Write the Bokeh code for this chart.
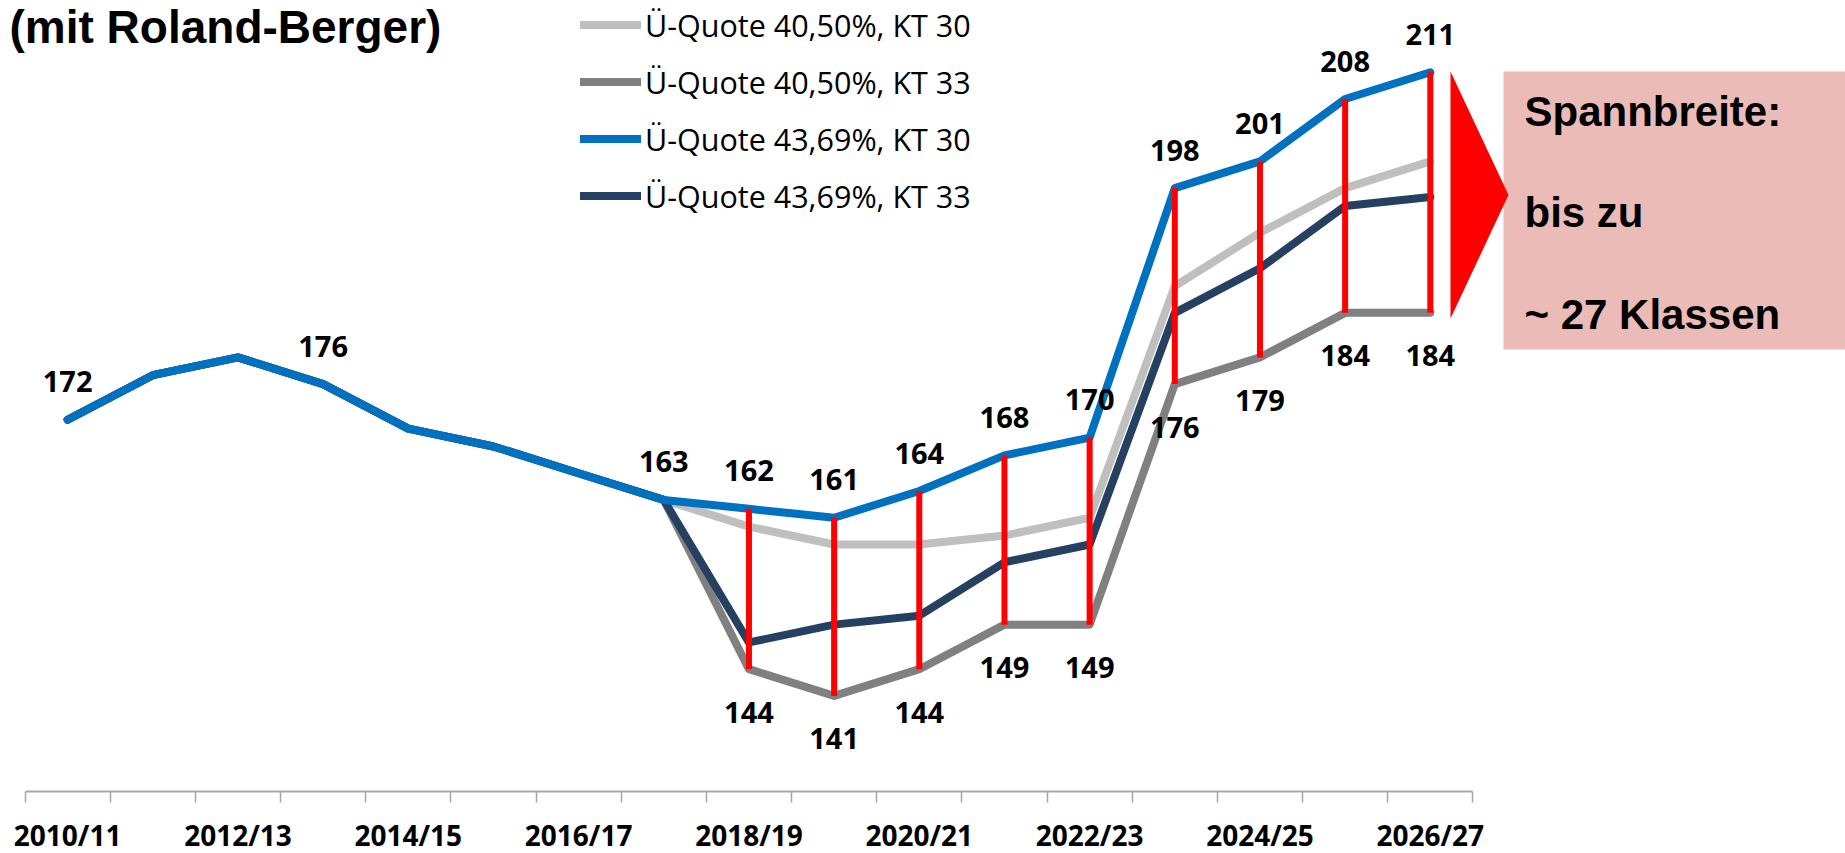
from bokeh.plotting import figure
from bokeh.models import (FixedTicker, Legend, LegendItem, Label, BoxAnnotation,
                          PolyAnnotation, Range1d, ColumnDataSource)
from bokeh.core.properties import value
from bokeh.embed import file_html
from bokeh.resources import INLINE

# ---------------- data ----------------
categories = ["2010/11", "2011/12", "2012/13", "2013/14", "2014/15", "2015/16",
              "2016/17", "2017/18", "2018/19", "2019/20", "2020/21", "2021/22",
              "2022/23", "2023/24", "2024/25", "2025/26", "2026/27"]
history = [172, 177, 179, 176, 171, 169, 166, 163]
q4050_kt30 = history + [160, 158, 158, 159, 161, 187, 193, 198, 201]
q4050_kt33 = history + [144, 141, 144, 149, 149, 176, 179, 184, 184]
q4369_kt30 = history + [162, 161, 164, 168, 170, 198, 201, 208, 211]
q4369_kt33 = history + [147, 149, 150, 156, 158, 184, 189, 196, 197]
series_names = ["Ü-Quote 40,50%, KT 30", "Ü-Quote 40,50%, KT 33",
                "Ü-Quote 43,69%, KT 30", "Ü-Quote 43,69%, KT 33"]
top_label_idx = [0, 3, 7, 8, 9, 10, 11, 12, 13, 14, 15, 16]
bottom_label_idx = [8, 9, 10, 11, 12, 13, 14, 15, 16]
box_lines = ["Spannbreite:", "bis zu", "~ 27 Klassen"]
title_text = "(mit Roland-Berger)"

# ---------------- geometry ----------------
FRAME_W, FRAME_H = 1845, 791
X0, X1 = -0.788, 20.875
Y0, Y1 = 130.27, 219.06


def dx(px):
    return X0 + px / FRAME_W * (X1 - X0)


def dy(py):
    return Y1 - py / FRAME_H * (Y1 - Y0)


n = len(categories)
xs = list(range(n))

p = figure(frame_width=FRAME_W, frame_height=FRAME_H,
           x_range=Range1d(X0, X1), y_range=Range1d(Y0, Y1),
           output_backend="svg", toolbar_location=None, y_axis_location=None,
           min_border=0, outline_line_color=None)
p.grid.visible = False
p.background_fill_color = "white"
p.border_fill_color = "white"

ax = p.xaxis[0]
ax.ticker = FixedTicker(ticks=xs[::2], minor_ticks=[i - 0.5 for i in range(n + 1)])
ax.major_label_overrides = {i: categories[i] for i in xs[::2]}
ax.bounds = (-0.5, n - 0.5)
ax.axis_line_color = "#A6A6A6"
ax.axis_line_width = 2
ax.major_tick_line_color = None
ax.major_tick_out = 0
ax.major_tick_in = 0
ax.minor_tick_line_color = "#A6A6A6"
ax.minor_tick_line_width = 1.5
ax.minor_tick_out = 11
ax.minor_tick_in = 0
ax.major_label_standoff = 13
ax.major_label_text_font = "Open Sans"
ax.major_label_text_font_style = "bold"
ax.major_label_text_font_size = "28px"
ax.major_label_text_color = "black"

colors = {"lg": "#BFBFBF", "g": "#808080", "b": "#0070C0", "n": "#254061"}
common = dict(line_width=8, line_join="round", line_cap="round")
r_g = p.line(xs, q4050_kt33, line_color=colors["g"], **common)
r_lg = p.line(xs, q4050_kt30, line_color=colors["lg"], **common)
r_n = p.line(xs, q4369_kt33, line_color=colors["n"], **common)
r_b = p.line(xs, q4369_kt30, line_color=colors["b"], **common)

span_idx = [i for i in xs if q4369_kt30[i] != q4050_kt33[i]]
p.segment(x0=span_idx, y0=[q4050_kt33[i] for i in span_idx],
          x1=span_idx, y1=[q4369_kt30[i] for i in span_idx],
          line_color="#FF0000", line_width=6)

lab_font = dict(text_font=value("Open Sans"), text_font_style="bold",
                text_font_size="29px", text_color="black",
                text_align="center", text_baseline="middle")
top_src = ColumnDataSource(dict(x=top_label_idx,
                                y=[q4369_kt30[i] for i in top_label_idx],
                                t=[str(q4369_kt30[i]) for i in top_label_idx]))
p.text(x="x", y="y", text="t", source=top_src, y_offset=-38, **lab_font)
bot_src = ColumnDataSource(dict(x=bottom_label_idx,
                                y=[q4050_kt33[i] for i in bottom_label_idx],
                                t=[str(q4050_kt33[i]) for i in bottom_label_idx]))
p.text(x="x", y="y", text="t", source=bot_src, y_offset=43, **lab_font)

legend = Legend(items=[LegendItem(label=series_names[0], renderers=[r_lg]),
                       LegendItem(label=series_names[1], renderers=[r_g]),
                       LegendItem(label=series_names[2], renderers=[r_b]),
                       LegendItem(label=series_names[3], renderers=[r_n])],
                location=(580, FRAME_H - 3 - 214), glyph_width=61, glyph_height=43,
                label_height=43, spacing=14, padding=0, margin=0,
                label_standoff=4, label_text_font="Open Sans",
                label_text_font_size="30.5px", label_text_color="black",
                border_line_color=None, background_fill_alpha=0)
p.add_layout(legend)

p.add_layout(Label(x=dx(9), y=dy(26), text=title_text, text_font="Liberation Sans",
                   text_font_style="bold", text_font_size="46px", text_color="black",
                   text_baseline="middle", text_align="left"))

p.add_layout(BoxAnnotation(left=dx(1503), right=X1, top=dy(71), bottom=dy(349),
                           fill_color="#EBBCB7", fill_alpha=1, line_color=None))
p.add_layout(PolyAnnotation(xs=[dx(1450), dx(1508), dx(1450)],
                            ys=[dy(71), dy(194.5), dy(318)],
                            fill_color="#FF0000", fill_alpha=1, line_color=None))
for txt, mid in zip(box_lines, [110.5, 211.5, 313.5]):
    p.add_layout(Label(x=dx(1524), y=dy(mid), text=txt, text_font="Liberation Sans",
                       text_font_style="bold", text_font_size="42px", text_color="black",
                       text_baseline="middle", text_align="left"))

open("out.html", "w").write(file_html(p, INLINE))
